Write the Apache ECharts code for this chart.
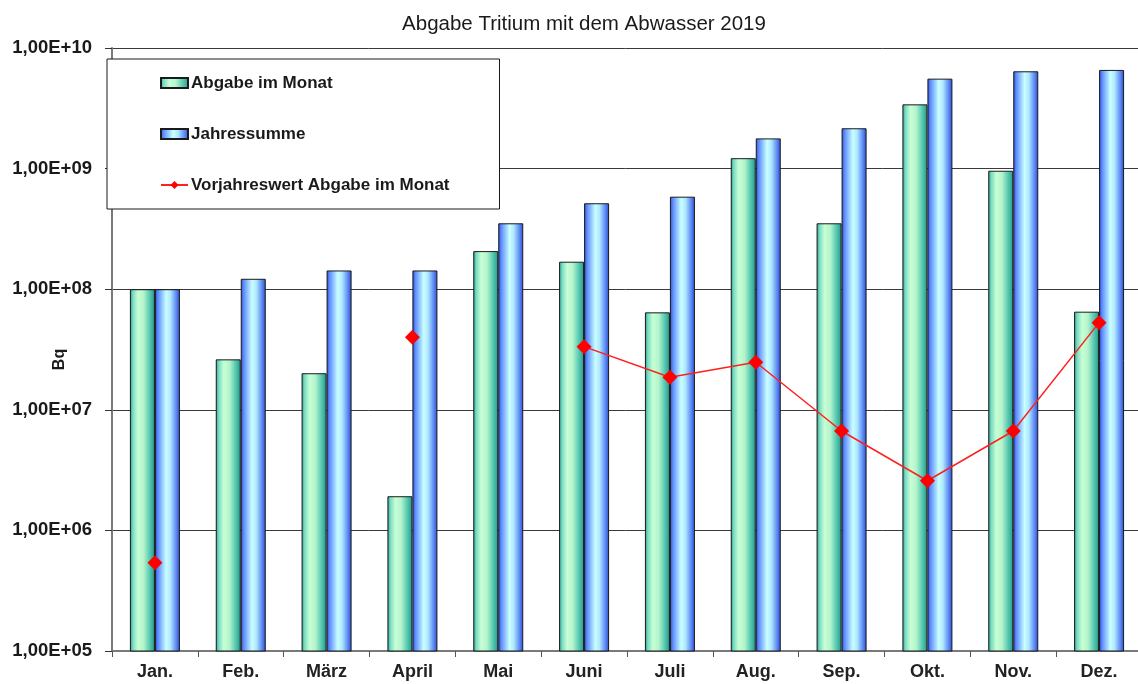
<!DOCTYPE html>
<html>
<head>
<meta charset="utf-8">
<script src="https://cdn.jsdelivr.net/npm/echarts@6/dist/echarts.min.js"></script>
<style>
html,body{margin:0;padding:0;background:#fff;}
#chart{width:1138px;height:684px;}
</style>
</head>
<body>
<div id="chart"></div>
<script>
const months = ['Jan.', 'Feb.', 'März', 'April', 'Mai', 'Juni', 'Juli', 'Aug.', 'Sep.', 'Okt.', 'Nov.', 'Dez.'];
const abgabeMonat = [1.0e8, 2.62e7, 2.01e7, 1.92e6, 2.07e8, 1.69e8, 6.43e7, 1.22e9, 3.52e8, 3.41e9, 9.6e8, 6.51e7];
const jahressumme = [1.0e8, 1.22e8, 1.43e8, 1.43e8, 3.52e8, 5.16e8, 5.85e8, 1.78e9, 2.16e9, 5.57e9, 6.41e9, 6.58e9];
const vorjahr = [5.4e5, null, null, 4.0e7, null, 3.34e7, 1.86e7, 2.48e7, 6.67e6, 2.58e6, 6.67e6, 5.28e7];
const seriesNames = ['Abgabe im Monat', 'Jahressumme', 'Vorjahreswert Abgabe im Monat'];
const chartTitle = 'Abgabe Tritium mit dem Abwasser 2019';
const yName = 'Bq';

const FONT = '"Liberation Sans", Arial, sans-serif';

const greenGrad = new echarts.graphic.LinearGradient(0, 0, 1, 0, [
  {offset: 0, color: '#2c9c8a'},
  {offset: 0.12, color: '#78dcc4'},
  {offset: 0.32, color: '#c8ffd4'},
  {offset: 0.55, color: '#b4f4cc'},
  {offset: 0.82, color: '#4cc4ae'},
  {offset: 1, color: '#2a9484'}
]);
const blueGrad = new echarts.graphic.LinearGradient(0, 0, 1, 0, [
  {offset: 0, color: '#2a4cd0'},
  {offset: 0.12, color: '#5e8cff'},
  {offset: 0.45, color: '#c8ffff'},
  {offset: 0.62, color: '#b0e8ff'},
  {offset: 0.86, color: '#5a86f4'},
  {offset: 1, color: '#2a4cc8'}
]);

const chart = echarts.init(document.getElementById('chart'));
chart.setOption({
  animation: false,
  backgroundColor: '#ffffff',
  textStyle: {fontFamily: FONT},
  title: {
    text: chartTitle,
    left: 579,
    textAlign: 'center',
    top: 9,
    textStyle: {fontFamily: FONT, fontSize: 20.5, fontWeight: 'normal', color: '#1a1a1a'}
  },
  legend: {
    orient: 'vertical',
    left: 107,
    top: 59,
    padding: [14, 50, 14, 53],
    itemGap: 31,
    itemWidth: 27,
    itemHeight: 10,
    backgroundColor: '#ffffff',
    borderColor: '#1a1a1a',
    borderWidth: 1,
    textStyle: {fontFamily: FONT, fontSize: 17, fontWeight: 'bold', color: '#1a1a1a', lineHeight: 20, padding: [0, 0, 0, -2]},
    data: [
      {name: seriesNames[0], icon: 'rect'},
      {name: seriesNames[1], icon: 'rect'},
      {name: seriesNames[2]}
    ]
  },
  grid: {left: 112, top: 48, width: 1030, bottom: 33, containLabel: false, outerBoundsMode: 'none'},
  xAxis: {
    type: 'category',
    data: months,
    boundaryGap: true,
    axisLine: {show: true, lineStyle: {color: '#7a7a7a', width: 2}},
    axisTick: {show: true, length: 6, lineStyle: {color: '#555', width: 1}},
    axisLabel: {fontFamily: FONT, fontSize: 18, fontWeight: 'bold', color: '#222', margin: 12, interval: 0},
    splitLine: {show: false}
  },
  yAxis: {
    type: 'log',
    logBase: 10,
    min: 1e5,
    max: 1e10,
    splitNumber: 5,
    name: yName,
    nameLocation: 'middle',
    nameRotate: 90,
    nameGap: 44,
    nameMoveOverlap: false,
    nameTextStyle: {fontFamily: FONT, fontSize: 16, fontWeight: 'bold', color: '#1a1a1a', padding: [0, 20, 0, 0]},
    axisLine: {show: true, lineStyle: {color: '#7a7a7a', width: 2}},
    axisTick: {show: true, length: 7, lineStyle: {color: '#333', width: 1}},
    axisLabel: {
      fontFamily: FONT, fontSize: 18.5, fontWeight: 'bold', color: '#1a1a1a', margin: 20,
      formatter: function (v) {
        const e = Math.round(Math.log10(v));
        return '1,00E+' + (e < 10 ? '0' + e : '' + e);
      }
    },
    splitLine: {show: true, lineStyle: {color: '#3a3a3a', width: 1}},
    minorTick: {show: false}
  },
  series: [
    {
      name: seriesNames[0],
      type: 'bar',
      data: abgabeMonat,
      barWidth: 25,
      barGap: '0%',
      itemStyle: {color: greenGrad, borderColor: '#1a1a1a', borderWidth: 1},
      z: 2
    },
    {
      name: seriesNames[1],
      type: 'bar',
      data: jahressumme,
      barWidth: 25,
      barGap: '0%',
      itemStyle: {color: blueGrad, borderColor: '#1a1a1a', borderWidth: 1},
      z: 2
    },
    {
      name: seriesNames[2],
      type: 'line',
      data: vorjahr,
      connectNulls: false,
      symbol: 'diamond',
      symbolSize: [15, 15],
      showSymbol: true,
      lineStyle: {color: '#ff2020', width: 1.5},
      itemStyle: {color: '#ff0000'},
      z: 5
    }
  ]
});
</script>
</body>
</html>
